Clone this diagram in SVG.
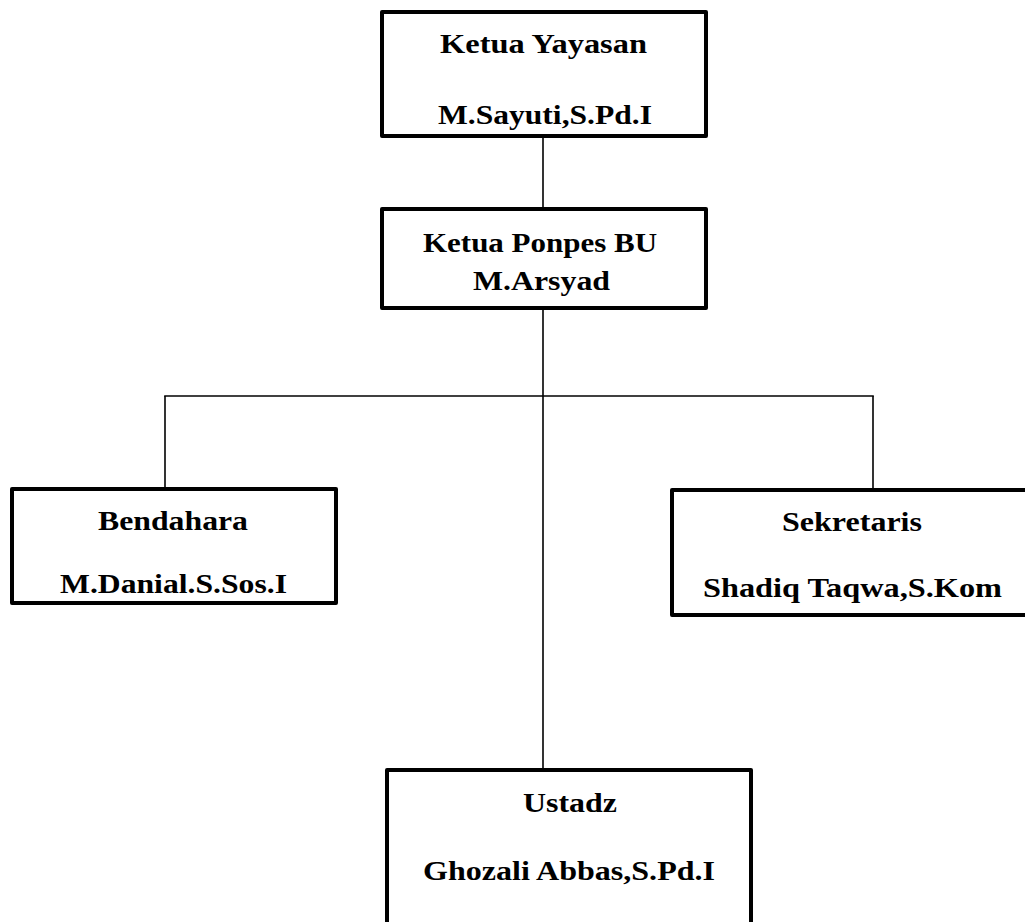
<svg xmlns="http://www.w3.org/2000/svg" width="1025" height="922" viewBox="0 0 1025 922">
<style>
.box{fill:#fff;stroke:#000;stroke-width:4;stroke-linejoin:round}
.t{font-family:"Liberation Serif","Times New Roman",serif;font-weight:bold;font-size:28px;fill:#000}
.ln{stroke:#000;stroke-width:1.6;fill:none}
</style>
<rect width="1025" height="922" fill="#fff"/>
<g id="connectors">
<line class="ln" x1="543" y1="138" x2="543" y2="207"/>
<line class="ln" x1="543" y1="310" x2="543" y2="768"/>
<line class="ln" x1="164.2" y1="396" x2="873.8" y2="396"/>
<line class="ln" x1="165" y1="396" x2="165" y2="487"/>
<line class="ln" x1="873" y1="396" x2="873" y2="488"/>
</g>
<g id="ketua-yayasan">
<rect class="box" x="382" y="12" width="324" height="124"/>
<text class="t" x="440" y="53" textLength="207" lengthAdjust="spacingAndGlyphs">Ketua Yayasan</text>
<text class="t" x="438" y="124" textLength="214" lengthAdjust="spacingAndGlyphs">M.Sayuti,S.Pd.I</text>
</g>
<g id="ketua-ponpes">
<rect class="box" x="382" y="209" width="324" height="99"/>
<text class="t" x="423" y="252" textLength="234" lengthAdjust="spacingAndGlyphs">Ketua Ponpes BU</text>
<text class="t" x="473" y="290" textLength="137" lengthAdjust="spacingAndGlyphs">M.Arsyad</text>
</g>
<g id="bendahara">
<rect class="box" x="12" y="489" width="324" height="114"/>
<text class="t" x="98" y="530" textLength="150" lengthAdjust="spacingAndGlyphs">Bendahara</text>
<text class="t" x="60" y="593" textLength="227" lengthAdjust="spacingAndGlyphs">M.Danial.S.Sos.I</text>
</g>
<g id="sekretaris">
<rect class="box" x="672" y="490" width="370" height="125"/>
<text class="t" x="782" y="531" textLength="140" lengthAdjust="spacingAndGlyphs">Sekretaris</text>
<text class="t" x="703" y="597" textLength="299" lengthAdjust="spacingAndGlyphs">Shadiq Taqwa,S.Kom</text>
</g>
<g id="ustadz">
<rect class="box" x="387" y="770" width="364" height="170"/>
<text class="t" x="523" y="812" textLength="94" lengthAdjust="spacingAndGlyphs">Ustadz</text>
<text class="t" x="423" y="880" textLength="292" lengthAdjust="spacingAndGlyphs">Ghozali Abbas,S.Pd.I</text>
</g>
</svg>
